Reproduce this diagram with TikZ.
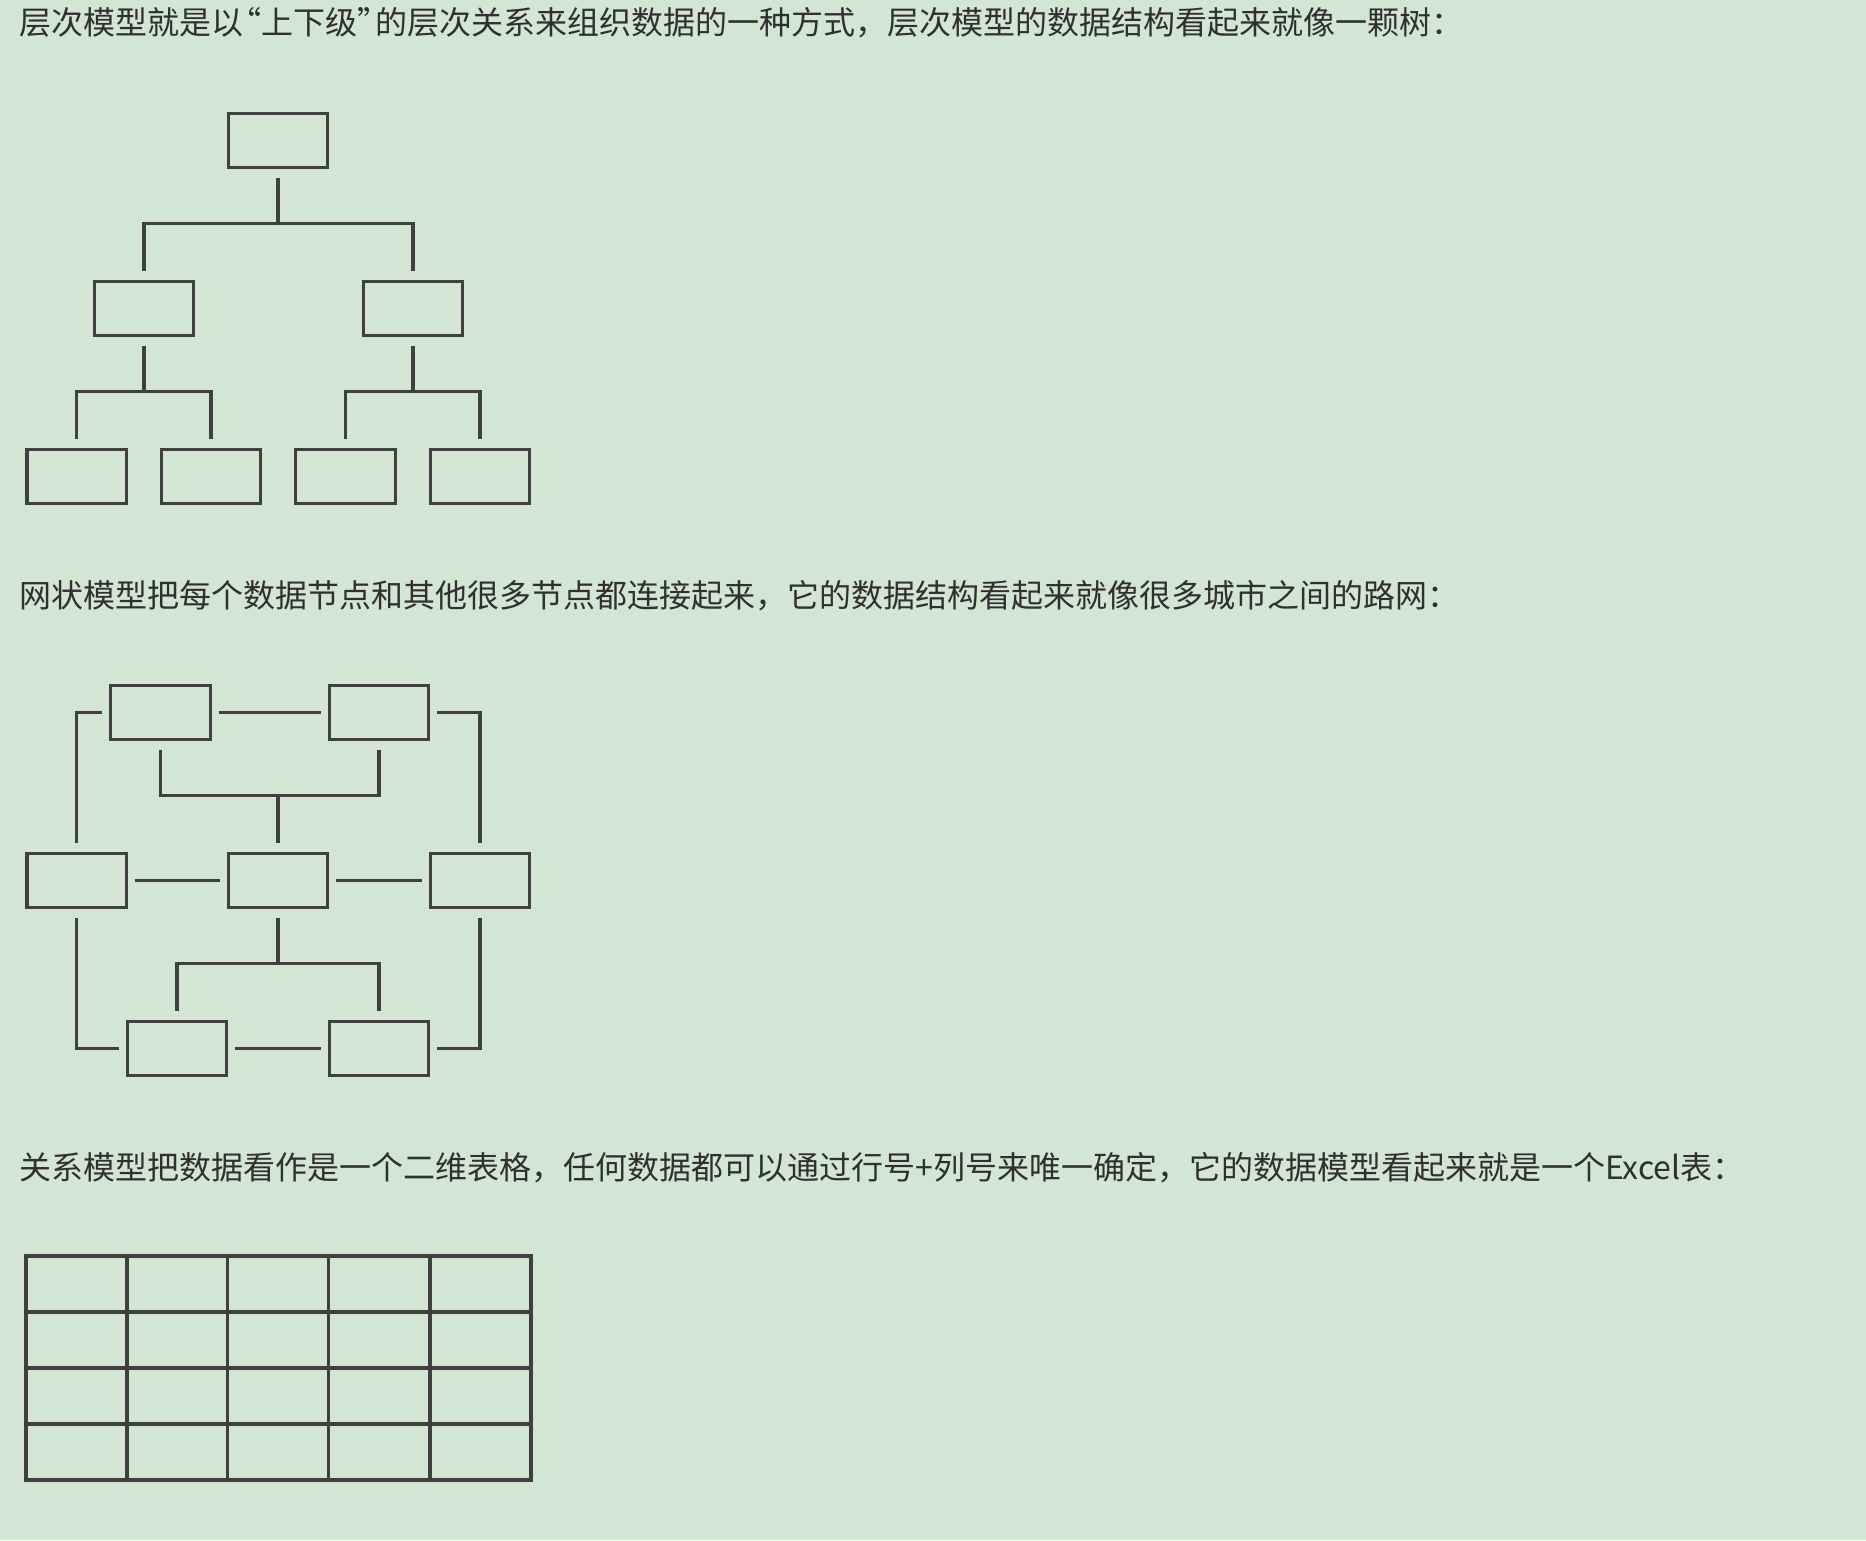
\documentclass[tikz,border=0pt]{standalone}
\usepackage{fontspec}
\setmainfont{Noto Sans CJK SC}
\usetikzlibrary{positioning}
\definecolor{mbg}{RGB}{210,230,211}
\definecolor{mline}{RGB}{64,64,64}
\definecolor{mtext}{RGB}{48,48,48}
\tikzset{box/.style = {draw=mline, line width=1.6pt, minimum width=49.65pt,
                       minimum height=27.15pt, inner sep=0,
                       outer xsep=4.3pt, outer ysep=5pt}}
\tikzset{link/.style = {draw=mline, line width=1.6pt}}
\tikzset{caption/.style = {anchor=base west, inner sep=0, text=mtext,
                           font=\fontsize{16}{19}\selectfont}}

\begin{document}
\begin{tikzpicture}[x=0.5pt, y=-0.5pt]
        \fill[mbg] (0,0) rectangle (1866,1540);
        \useasboundingbox (0,0) rectangle (1866,1540);

        \node[caption] (capTree) at (19,35) {层次模型就是以\kern-7pt“上下级”\kern-7pt 的层次关系来组织数据的一种方式，层次模型的数据结构看起来就像一颗树：};

        \node[box] (root) at (278,140.5) {};
        \node[box] (midL) at (144,308.5) {};
        \node[box] (midR) at (413,308.5) {};
        \node[box] (leafA) at (76.6,476.5) {};
        \node[box] (leafB) at (211,476.5) {};
        \node[box] (leafC) at (345.5,476.5) {};
        \node[box] (leafD) at (480,476.5) {};

        \draw[link] (root.south) -- ++(0,46) -| (midL.north);
        \draw[link] (root.south) -- ++(0,46) -| (midR.north);
        \draw[link] (midL.south) -- ++(0,46) -| (leafA.north);
        \draw[link] (midL.south) -- ++(0,46) -| (leafB.north);
        \draw[link] (midR.south) -- ++(0,46) -| (leafC.north);
        \draw[link] (midR.south) -- ++(0,46) -| (leafD.north);

        \node[caption] (capNet) at (19,607) {网状模型把每个数据节点和其他很多节点都连接起来，它的数据结构看起来就像很多城市之间的路网：};

        \node[box] (cityA) at (160.5,712.5) {};
        \node[box] (cityB) at (379,712.5) {};
        \node[box] (cityC) at (76.6,880.5) {};
        \node[box] (cityD) at (278,880.5) {};
        \node[box] (cityE) at (480,880.5) {};
        \node[box] (cityF) at (177,1048.5) {};
        \node[box] (cityG) at (379,1048.5) {};

        \draw[link] (cityA.east) -- (cityB.west);
        \draw[link] (cityA.west) -| (cityC.north);
        \draw[link] (cityB.east) -| (cityE.north);
        \draw[link] (cityA.south) -- ++(0,46) -| (cityB.south);
        \draw[link] (cityD.north) -- ++(0,-47.7);
        \draw[link] (cityC.east) -- (cityD.west);
        \draw[link] (cityD.east) -- (cityE.west);
        \draw[link] (cityD.south) -- ++(0,46) -| (cityF.north);
        \draw[link] (cityD.south) -- ++(0,46) -| (cityG.north);
        \draw[link] (cityC.south) |- (cityF.west);
        \draw[link] (cityE.south) |- (cityG.east);
        \draw[link] (cityF.east) -- (cityG.west);

        \node[caption] (capTable) at (19,1179) {关系模型把数据看作是一个二维表格，任何数据都可以通过行号+列号来唯一确定，它的数据模型看起来就是一个Excel表：};

        \draw[link] (26,1256) rectangle (531,1480);
        \draw[link] (26,1312) -- (531,1312);
        \draw[link] (26,1368) -- (531,1368);
        \draw[link] (26,1424) -- (531,1424);
        \draw[link] (127,1256) -- (127,1480);
        \draw[link] (227.5,1256) -- (227.5,1480);
        \draw[link] (328.5,1256) -- (328.5,1480);
        \draw[link] (430,1256) -- (430,1480);
      \end{tikzpicture}
\end{document}
